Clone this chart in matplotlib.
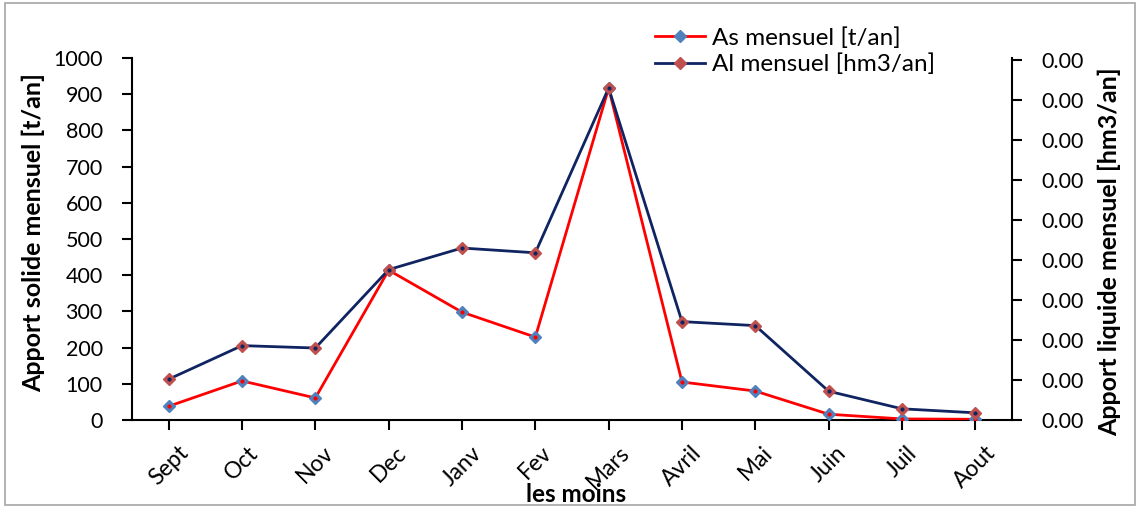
import matplotlib
matplotlib.use('Agg')
import matplotlib.pyplot as plt
import matplotlib.transforms as mtransforms
from matplotlib.patches import Rectangle
from matplotlib.ticker import FormatStrFormatter

plt.rcParams['font.family'] = ['Lato', 'DejaVu Sans']

# data
mois = ['Sept', 'Oct', 'Nov', 'Dec', 'Janv', 'Fev', 'Mars', 'Avril', 'Mai', 'Juin', 'Juil', 'Aout']
as_mensuel = [38, 108, 61, 414, 298, 229, 917, 105, 80, 16, 3, 2]
al_mensuel = [0.00051, 0.00093, 0.00090, 0.00188, 0.00215, 0.00209,
              0.00415, 0.00123, 0.00118, 0.00036, 0.00014, 0.00009]

x = list(range(len(mois)))

fig = plt.figure(figsize=(11.4, 5.08), dpi=100)
ax = fig.add_axes([0.1158, 0.1732, 0.7719, 0.7126])
ax2 = ax.twinx()

# As series (left axis)
l1, = ax.plot(x, as_mensuel, color='#FF0000', lw=2, marker='D', ms=6.5,
              mfc='#4F81BD', mec='#4F81BD', zorder=3)
ax.plot(x, as_mensuel, ls='none', marker='o', ms=2, color='#FF0000', zorder=4)

# Al series (right axis)
l2, = ax2.plot(x, al_mensuel, color='#0F2461', lw=2, marker='D', ms=6.5,
               mfc='#C0504D', mec='#C0504D', zorder=3)
ax2.plot(x, al_mensuel, ls='none', marker='o', ms=2, color='#0F2461', zorder=4)

ax.set_xlim(-0.5, 11.5)
ax.set_ylim(0, 1000)
ax.set_yticks(range(0, 1001, 100))
ax.set_xticks(x)
ax.set_xticklabels(mois, rotation=45, ha='center', fontsize=16.5)
# excel puts the end of the rotated label just at the tick
shift = mtransforms.ScaledTranslation(-0.16, 0, fig.dpi_scale_trans)
for lab in ax.get_xticklabels():
    lab.set_transform(lab.get_transform() + shift)
ax.tick_params(axis='y', labelsize=15.5, direction='out', length=7, width=1.5, pad=14)
ax.tick_params(axis='x', direction='out', length=7, width=1.5, pad=9)

ax2.set_ylim(0, 0.004525)
ax2.set_yticks([i * 0.0005 for i in range(10)])
ax2.yaxis.set_major_formatter(FormatStrFormatter('%.2f'))
ax2.tick_params(axis='y', labelsize=15.5, direction='out', length=7, width=1.5, pad=14)

for a in (ax, ax2):
    a.spines['top'].set_visible(False)
    for s in ('left', 'right', 'bottom'):
        a.spines[s].set_linewidth(1.5)
ax.spines['right'].set_visible(False)
ax2.spines['left'].set_visible(False)
ax2.spines['bottom'].set_visible(False)

ax.set_ylabel('Apport solide mensuel [t/an]', fontsize=18, fontweight='bold')
ax.yaxis.set_label_coords(-0.099, 0.519)
ax2.set_ylabel('Apport liquide mensuel [hm3/an]', fontsize=18, fontweight='bold')
ax2.yaxis.set_label_coords(1.098, 0.464)
ax.set_xlabel('les moins', fontsize=17.5, fontweight='bold')
ax.xaxis.set_label_coords(0.5045, -0.174)

fig.legend([l1, l2], ['As mensuel [t/an]', 'Al mensuel [hm3/an]'],
           loc='upper left', bbox_to_anchor=(0.5746, 0.947), frameon=False,
           fontsize=17.5, handlelength=2.05, labelspacing=0.2, handletextpad=0.3,
           borderpad=0, borderaxespad=0)

fig.patches.append(Rectangle((0.004, 0.006), 0.992, 0.988, transform=fig.transFigure,
                             fill=False, edgecolor='#A6A6A6', lw=1.2))

plt.savefig('out.png', dpi=100)
